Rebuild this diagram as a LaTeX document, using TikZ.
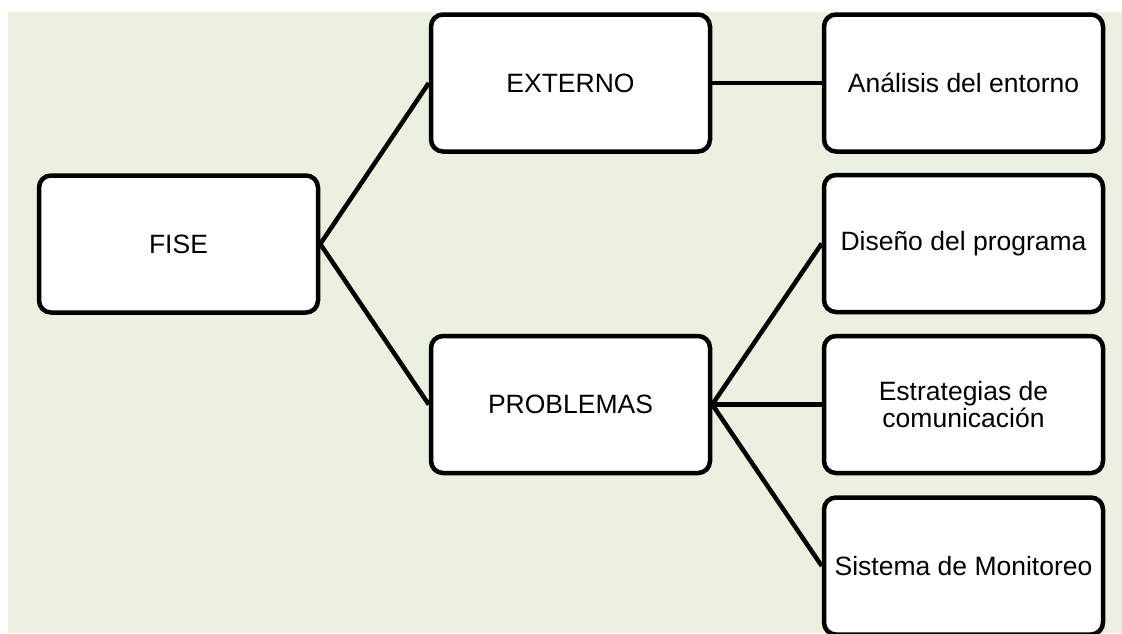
\documentclass[tikz,border=0pt]{standalone}
\usepackage{fontspec}
\setmainfont{Liberation Sans}
\definecolor{bggreen}{RGB}{234,241,222}
\begin{document}
\begin{tikzpicture}[x=1pt,y=-1pt,
  box/.style={draw=black, line width=4.5pt, rounded corners=12pt, fill=white,
    minimum width=279pt, minimum height=137pt, inner sep=2pt,
    font=\fontsize{26.5}{27}\selectfont, align=center},
  link/.style={line width=4.5pt, draw=black}]
\useasboundingbox (0,0) rectangle (1122,633);
\fill[bggreen] (8,12) rectangle (1122,633);
\node[box] (fise) at (178.5,244) {FISE};
\node[box] (ext) at (570.5,83) {EXTERNO};
\node[box] (prob) at (570.5,404.5) {PROBLEMAS};
\node[box] (anal) at (963.5,83) {Análisis del entorno};
\node[box] (dis) at (963.5,243.5) {Diseño del programa};
\node[box] (est) at (963.5,404.5) {Estrategias de\\comunicación};
\node[box] (sis) at (963.5,566) {Sistema de Monitoreo};
\draw[link] (fise.east) -- (ext.west);
\draw[link] (fise.east) -- (prob.west);
\draw[link] (ext.east) -- (anal.west);
\draw[link] (prob.east) -- (dis.west);
\draw[link] (prob.east) -- (est.west);
\draw[link] (prob.east) -- (sis.west);
\end{tikzpicture}
\end{document}
